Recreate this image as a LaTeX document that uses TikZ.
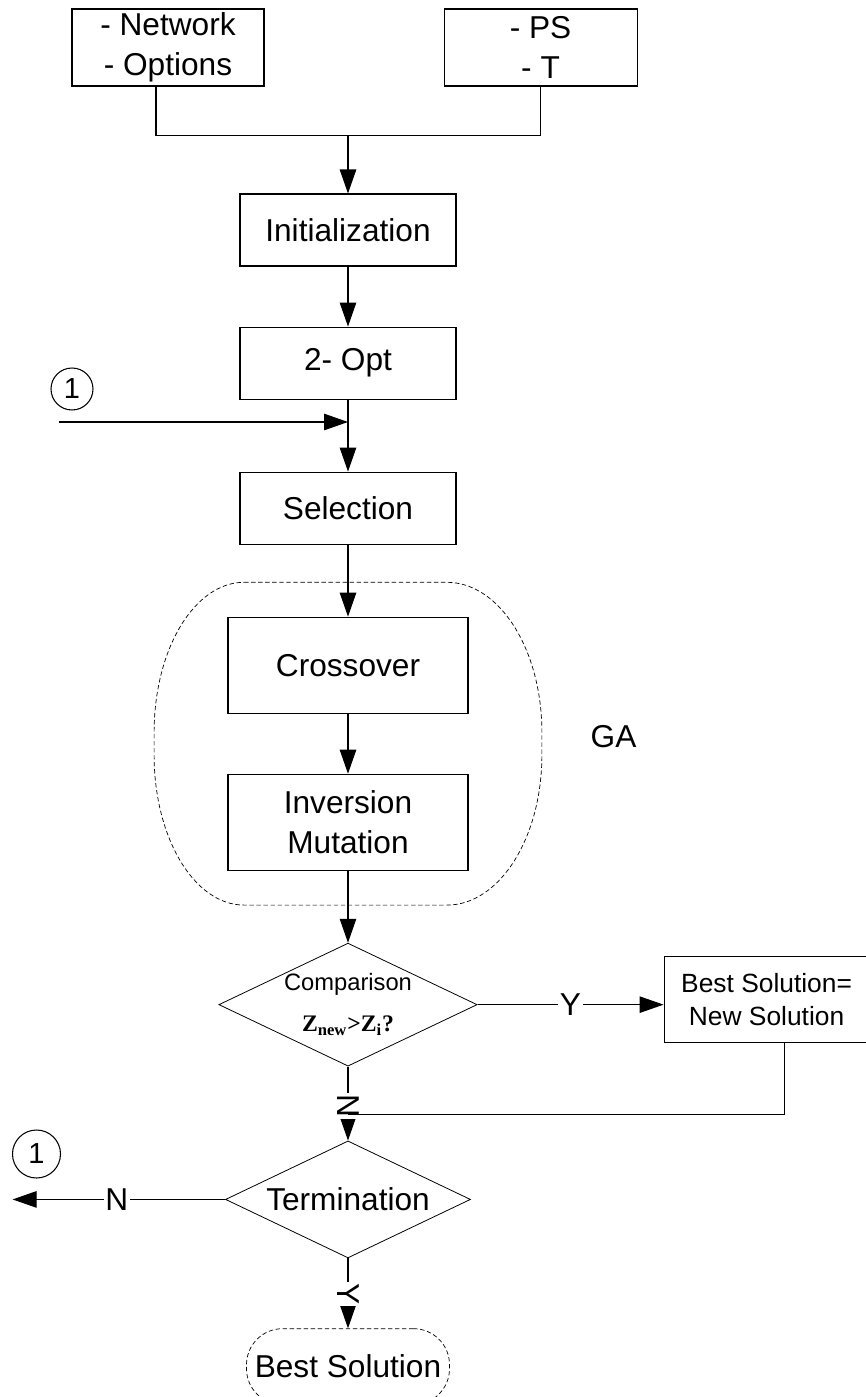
\documentclass[tikz,border=0pt]{standalone}
\usepackage{fontspec}
\setmainfont{Liberation Sans}
\newfontfamily\zfont{Liberation Serif}
\usetikzlibrary{shapes.geometric, arrows.meta, positioning, fit, calc}

\begin{document}
\begin{tikzpicture}[
    node distance=1.2cm and 1cm,
    >={Triangle[length=4.8mm, width=3.3mm]},
    every node/.style={font=\fontsize{18}{22.8}\selectfont},
    process/.style={rectangle, draw, line width=0.6pt, minimum width=4.32cm, minimum height=1.44cm, align=center, inner sep=2pt},
    decision/.style={diamond, draw, line width=0.45pt, aspect=2.1, inner sep=0pt, align=center},
    terminal/.style={rectangle, draw, rounded corners=0.72cm, line width=0.4pt, dash pattern=on 2.5pt off 1.5pt, minimum width=4.06cm, minimum height=1.52cm},
    pageref/.style={circle, draw, line width=0.6pt, inner sep=0pt, font=\fontsize{16.5}{18}\selectfont},
    lbl/.style={fill=white, inner sep=1pt},
    arrow/.style={->, line width=0.6pt},
    line/.style={line width=0.6pt},
    gaborder/.style={line width=0.4pt, dash pattern=on 2.5pt off 1.5pt},
]
\useasboundingbox (0,0) rectangle (17.32,-27.94);

% === INPUTS ===
\node[process, minimum width=3.84cm, minimum height=1.54cm] (netw) at (3.36,-0.95) {- Network\\- Options};
\node[process, minimum width=3.86cm, minimum height=1.54cm, right=3.58cm of netw] (psT) {- PS\\- T};

% === MAIN FLOW ===
\node[process] (init) at (6.96,-4.6) {Initialization};
\node[process, below=1.2cm of init] (twoopt) {2- Opt};
\node[process, below=1.44cm of twoopt] (select) {Selection};

% GA block
\node[process, minimum width=4.8cm, minimum height=1.92cm, below=1.44cm of select] (cross) {Crossover};
\node[process, minimum width=4.8cm, minimum height=1.92cm, below=1.2cm of cross] (invmut) {Inversion\\Mutation};
\node[fit=(cross)(invmut), inner xsep=1.46cm, inner ysep=0.68cm] (gabox) {};
\draw[gaborder] ([xshift=1.8cm]gabox.north west) -- ([xshift=-1.9cm]gabox.north east)
    arc[start angle=90, end angle=0, x radius=1.9cm, y radius=3cm]
    -- ([yshift=3cm]gabox.south east)
    arc[start angle=0, end angle=-90, x radius=1.9cm, y radius=3cm]
    -- ([xshift=1.8cm]gabox.south west)
    arc[start angle=270, end angle=180, x radius=1.8cm, y radius=3cm]
    -- ([yshift=-3cm]gabox.north west)
    arc[start angle=180, end angle=90, x radius=1.8cm, y radius=3cm] -- cycle;
\node[right=0.97cm of gabox, inner sep=0pt, yshift=0.14cm] (galbl) {GA};

% decisions
\node[decision, minimum width=5cm, minimum height=2.4cm, below=1.44cm of invmut,
      font=\fontsize{13.5}{23.3}\selectfont] (cmp) {Comparison\\{\zfont\bfseries Z\textsubscript{new}>Z\textsubscript{i}?}};
\node[process, minimum width=4.1cm, minimum height=1.72cm, right=3.72cm of cmp, yshift=0.1cm,
      font=\fontsize{15}{19}\selectfont] (bestnew) {Best Solution=\\New Solution};
\node[decision, minimum width=4.9cm, minimum height=2.34cm, below=1.48cm of cmp] (term) {Termination};
\node[terminal, below=1.4cm of term] (best) {Best Solution};

% loop connectors
\node[pageref, minimum size=0.84cm] (loopin) at (1.44,-7.78) {1};
\node[pageref, minimum size=0.96cm] (loopout) at (0.73,-23.08) {1};

% === FLOW CONNECTIONS ===
\coordinate (junc) at ($(init.north)+(0,1.16)$);
\draw[line] ([xshift=-0.24cm]netw.south) |- (junc) -| (psT.south);
\draw[arrow] (junc) -- (init);
\draw[arrow] (init) -- (twoopt);

\coordinate (loopstart) at (1.18,-8.44);
\coordinate (merge) at (twoopt.south |- loopstart);
\draw[arrow] (loopstart) -- (merge);
\draw[arrow] (twoopt) -- (select);
\draw[arrow] (select) -- (cross);
\draw[arrow] (cross) -- (invmut);
\draw[arrow] (invmut) -- (cmp);

\draw[arrow] (cmp.east) -- node[lbl] {Y} (cmp.east -| bestnew.west);
\draw[arrow] (cmp) -- node[lbl, rotate=-90, pos=0.53] {N} (term);
\coordinate (back) at ($(term.north)+(0,0.52)$);
\draw[line] ([xshift=0.35cm]bestnew.south) |- (back);

\coordinate (loopend) at ($(term.west)+(-4.25,0)$);
\draw[arrow] (term.west) -- node[lbl, pos=0.51] {N} (loopend);
\draw[arrow] (term) -- node[lbl, rotate=-90, pos=0.51] {Y} (best);

\end{tikzpicture}
\end{document}
